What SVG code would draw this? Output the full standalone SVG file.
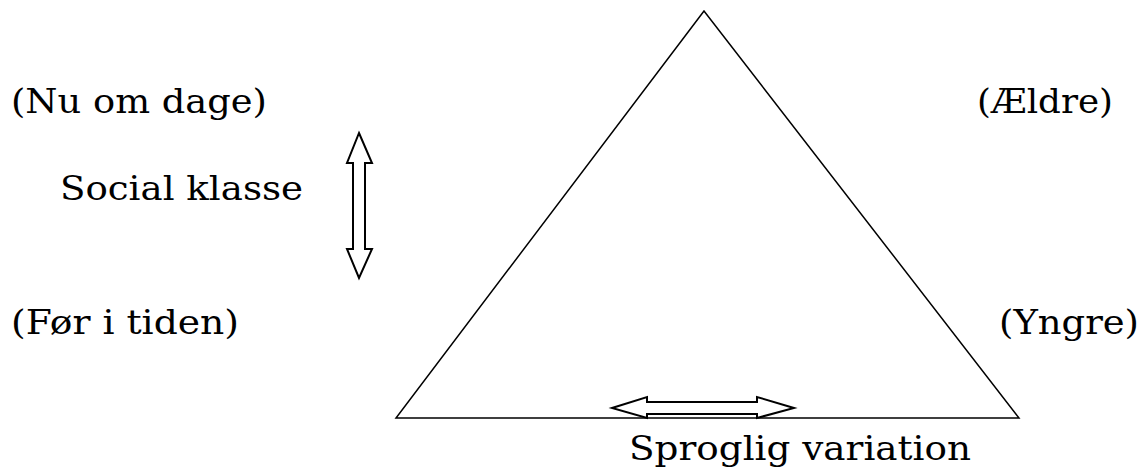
<svg xmlns="http://www.w3.org/2000/svg" width="1145" height="473" viewBox="0 0 1145 473">
<style>
text{font-family:"DejaVu Serif",serif;font-size:33px;fill:#000}
.s{fill:none;stroke:#000;stroke-width:1.5}
.a{fill:#fff;stroke:#000;stroke-width:2}
</style>
<rect width="1145" height="473" fill="#fff"/>
<g id="triangle"><polygon class="s" points="704,11 396,418 1019,418"/></g>
<g id="labels">
<text x="11" y="113" textLength="256" lengthAdjust="spacingAndGlyphs">(Nu om dage)</text>
<text x="60" y="200" textLength="243" lengthAdjust="spacingAndGlyphs">Social klasse</text>
<text x="11" y="334" textLength="228" lengthAdjust="spacingAndGlyphs">(Før i tiden)</text>
<text x="977" y="113" textLength="136" lengthAdjust="spacingAndGlyphs">(Ældre)</text>
<text x="999" y="334" textLength="140" lengthAdjust="spacingAndGlyphs">(Yngre)</text>
<text x="629" y="460" textLength="342" lengthAdjust="spacingAndGlyphs">Sproglig variation</text>
</g>
<g id="connectors">
<polygon class="a" points="359,133 372,163 365,163 365,249 372,249 359,278 347,249 353,249 353,163 347,163"/>
<polygon class="a" points="612,408 647,397 647,402 757,402 757,397 794,408 757,418 757,414 647,414 647,418"/>
</g>
</svg>
